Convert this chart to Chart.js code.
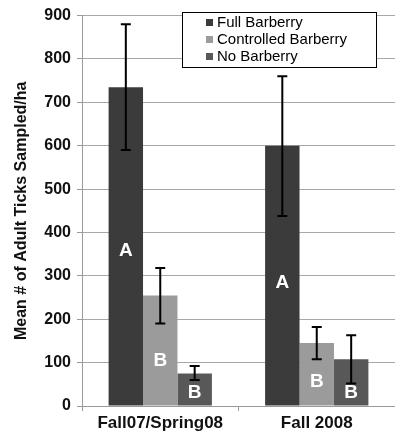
<!DOCTYPE html>
<html>
<head>
<meta charset="utf-8">
<script src="https://cdn.jsdelivr.net/npm/chart.js@4"></script>
<style>
  html, body { margin: 0; padding: 0; background: #fff; }
  #wrap { width: 395px; height: 442px; }
</style>
</head>
<body>
<div id="wrap"><canvas id="ticks-chart" width="395" height="442"></canvas></div>
<script>
const periods = ["Fall07/Spring08", "Fall 2008"];
const seriesNames = ["Full Barberry", "Controlled Barberry", "No Barberry"];
const fullMeans = [735, 600];
const controlledMeans = [255, 145];
const noMeans = [75, 108];
const fullErr = [[590, 880], [438, 760]];
const controlledErr = [[190, 318], [108, 182]];
const noErr = [[60, 92], [52, 163]];
const fullLetters = ["A", "A"];
const controlledLetters = ["B", "B"];
const noLetters = ["B", "B"];
// where the letters sit, in y-axis units
const fullLetterAt = [358, 285];
const controlledLetterAt = [105, 57];
const noLetterAt = [30, 30];
const yTicks = [0, 100, 200, 300, 400, 500, 600, 700, 800, 900];

const barColors = ["#3b3b3b", "#9b9b9b", "#585858"];

const errorBars = {
  id: 'errorBars',
  afterDatasetsDraw(chart) {
    const ctx = chart.ctx;
    const y = chart.scales.y;
    chart.data.datasets.forEach((ds, i) => {
      const meta = chart.getDatasetMeta(i);
      meta.data.forEach((bar, j) => {
        // letter
        ctx.save();
        ctx.fillStyle = "#fff";
        ctx.font = "bold 19px 'Liberation Sans', Arial, sans-serif";
        ctx.textAlign = "center";
        ctx.textBaseline = "middle";
        ctx.fillText(ds.letters[j], bar.x, y.getPixelForValue(ds.letterAt[j]));
        ctx.restore();
        // error bar
        const lo = y.getPixelForValue(ds.err[j][0]);
        const hi = y.getPixelForValue(ds.err[j][1]);
        ctx.save();
        ctx.strokeStyle = "#000";
        ctx.lineWidth = 2;
        ctx.beginPath();
        ctx.moveTo(bar.x, lo); ctx.lineTo(bar.x, hi);
        ctx.moveTo(bar.x - 5, lo); ctx.lineTo(bar.x + 5, lo);
        ctx.moveTo(bar.x - 5, hi); ctx.lineTo(bar.x + 5, hi);
        ctx.stroke();
        ctx.restore();
      });
    });
  }
};

const boxLegend = {
  id: 'boxLegend',
  afterDraw(chart) {
    const ctx = chart.ctx;
    const x0 = 182, y0 = 12, w = 194, h = 55;
    ctx.save();
    ctx.beginPath();
    ctx.rect(x0, y0, w, h);
    ctx.fillStyle = "#fff";
    ctx.fill();
    ctx.clip();
    ctx.font = "15px 'Liberation Sans', Arial, sans-serif";
    ctx.textBaseline = "middle";
    chart.data.datasets.forEach((ds, i) => {
      const cy = y0 + 11 + i * 17;
      ctx.fillStyle = ds.backgroundColor;
      ctx.fillRect(x0 + 24, cy - 4, 7, 7);
      ctx.fillStyle = "#000";
      ctx.fillText(ds.label, x0 + 35, cy);
    });
    ctx.restore();
    ctx.save();
    ctx.strokeStyle = "#000";
    ctx.lineWidth = 1;
    ctx.strokeRect(x0 + 0.5, y0 + 0.5, w, h);
    ctx.restore();
  }
};

const ctx = document.getElementById("ticks-chart").getContext("2d");

new Chart(ctx, {
  type: "bar",
  data: {
    labels: periods,
    datasets: [
      { label: seriesNames[0], data: fullMeans, err: fullErr, letters: fullLetters, letterAt: fullLetterAt,
        backgroundColor: barColors[0], borderWidth: 0 },
      { label: seriesNames[1], data: controlledMeans, err: controlledErr, letters: controlledLetters, letterAt: controlledLetterAt,
        backgroundColor: barColors[1], borderWidth: 0 },
      { label: seriesNames[2], data: noMeans, err: noErr, letters: noLetters, letterAt: noLetterAt,
        backgroundColor: barColors[2], borderWidth: 0 },
    ],
  },
  options: {
    responsive: false,
    animation: false,
    devicePixelRatio: 1,
    layout: { padding: { top: 14, right: 0, left: 0, bottom: 0 } },
    datasets: { bar: { categoryPercentage: 0.66, barPercentage: 1.0 } },
    plugins: {
      legend: { display: false },
      tooltip: { enabled: false },
    },
    scales: {
      y: {
        min: 0,
        max: 900,
        afterBuildTicks(axis) { axis.ticks = yTicks.map(v => ({ value: v })); },
        afterFit(axis) { axis.width = 82; },
        border: { color: "#9a9a9a", width: 1 },
        grid: { color: "#a8a8a8", lineWidth: 1, tickLength: 5, tickColor: "#9a9a9a" },
        ticks: {
          padding: 6,
          color: "#111",
          font: { size: 16, weight: "bold", family: "'Liberation Sans', Arial" },
        },
        title: {
          display: true,
          text: "Mean # of Adult Ticks Sampled/ha",
          color: "#111",
          padding: { top: 12, bottom: 0 },
          font: { size: 16, weight: "bold", family: "'Liberation Sans', Arial" },
        },
      },
      x: {
        afterFit(axis) { axis.height = 36; },
        border: { color: "#9a9a9a", width: 1 },
        grid: { drawOnChartArea: false, drawTicks: true, tickLength: 5, color: "#9a9a9a" },
        ticks: {
          padding: 2,
          color: "#111",
          font: { size: 17, weight: "bold", family: "'Liberation Sans', Arial" },
        },
      },
    },
  },
  plugins: [errorBars, boxLegend],
});
</script>
</body>
</html>
